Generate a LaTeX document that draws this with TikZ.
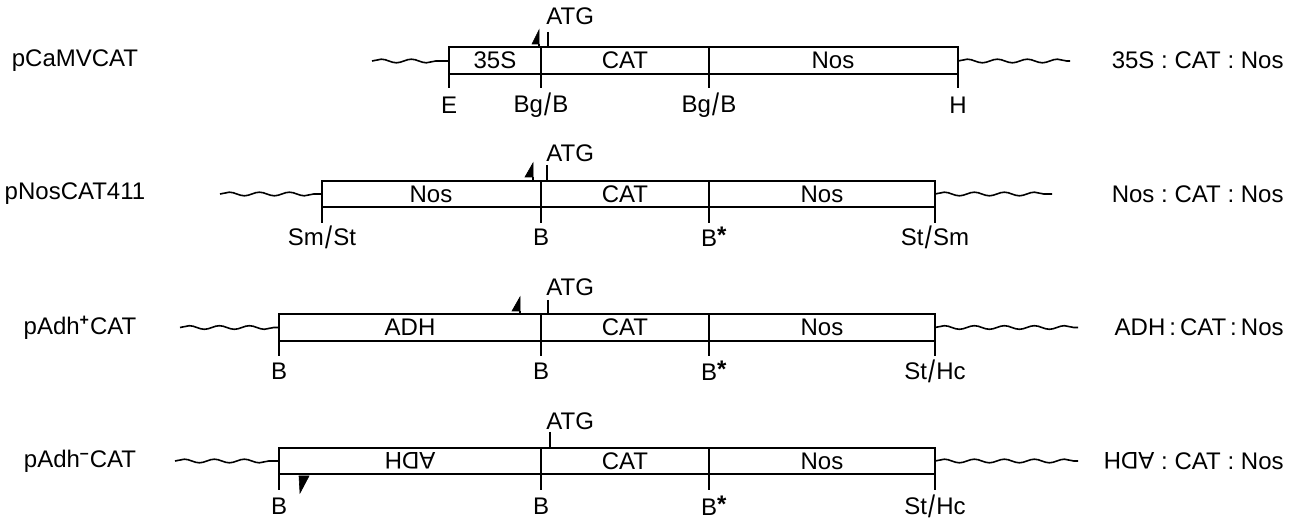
\documentclass[tikz,border=0pt]{standalone}
\usepackage{fontspec}
\setmainfont{Liberation Sans}
\usetikzlibrary{decorations.pathmorphing}
\newcommand{\tallslash}{\hspace{0.05em}\raisebox{-0.12em}{\scalebox{1.05}[1.3]{/}}\hspace{0.05em}}
\newcommand{\cln}{\hspace{0.28em}:\hspace{0.28em}}
\begin{document}
\begin{tikzpicture}[x=0.5pt,y=-0.5pt,
  every node/.style={font=\fontsize{12}{14}\selectfont, inner sep=0pt},
  boxline/.style={line width=0.8pt},
  tickline/.style={line width=0.8pt},
  wave/.style={line width=0.8pt, decorate, decoration={snake, segment length=15pt, amplitude=0.9pt}},
  flag/.style={fill=black, draw=black, line width=0.3pt},
  rlbl/.style={anchor=east}]
\useasboundingbox (0,0) rectangle (1296,522);

% ---------------- Row 1 ----------------
\draw[boxline] (449,47) rectangle (958,74);
\draw[boxline] (541,47) -- (541,74) (709,47) -- (709,74);
\node (r1a) at (495,60.5) {35S};
\node (r1b) at (625,60.5) {CAT};
\node (r1c) at (833,60.5) {Nos};
\draw[wave] (372,61) -- (449,61);
\draw[wave] (958,61) -- (1070,61);
\node (r1name) at (75,60.5) {pCaMVCAT};
\node[rlbl] (r1right) at (1284,60.5) {35S\cln CAT\cln Nos};
\draw[tickline] (449,74) -- (449,88) (541,74) -- (541,88) (709,74) -- (709,88) (958,74) -- (958,88);
\node (r1t1) at (449,105) {E};
\node (r1t2) at (541,105) {Bg\tallslash B};
\node (r1t3) at (709,105) {Bg\tallslash B};
\node (r1t4) at (958,105) {H};
\draw[tickline] (548,32) -- (548,47);
\node[anchor=west] (r1atg) at (546,16) {ATG};
\fill[flag] (532,44) -- (539,44) -- (539,30) -- cycle;
\draw[line width=0.6pt] (539,44) -- (539,47);

% ---------------- Row 2 ----------------
\draw[boxline] (322,181) rectangle (935,207);
\draw[boxline] (541,181) -- (541,207) (709,181) -- (709,207);
\node (r2a) at (431,194) {Nos};
\node (r2b) at (625,194) {CAT};
\node (r2c) at (822,194) {Nos};
\draw[wave] (220,194) -- (322,194);
\draw[wave] (935,194) -- (1052,194);
\node (r2name) at (75,194) {pNosCAT411};
\node[rlbl] (r2right) at (1284,194) {Nos\cln CAT\cln Nos};
\draw[tickline] (322,207) -- (322,223) (541,207) -- (541,223) (709,207) -- (709,223) (935,207) -- (935,223);
\node (r2t1) at (322,237) {Sm\tallslash St};
\node (r2t2) at (541,237) {B};
\node (r2t3) at (709,237) {B\rlap{\raisebox{0.25ex}{\textbf{\large *}}}};
\node (r2t4) at (935,237) {St\tallslash Sm};
\draw[tickline] (547,165) -- (547,181);
\node[anchor=west] (r2atg) at (546,153) {ATG};
\fill[flag] (525,177) -- (533,177) -- (533,163) -- cycle;
\draw[line width=0.6pt] (533,177) -- (533,181);

% ---------------- Row 3 ----------------
\draw[boxline] (279,314) rectangle (935,341);
\draw[boxline] (541,314) -- (541,341) (709,314) -- (709,341);
\node (r3a) at (410,327.5) {ADH};
\node (r3b) at (625,327.5) {CAT};
\node (r3c) at (822,327.5) {Nos};
\draw[wave] (180,327.5) -- (279,327.5);
\draw[wave] (935,327.5) -- (1078,327.5);
\node (r3name) at (80,327.5) {pAdh\textsuperscript{\textbf{+}}CAT};
\node[rlbl] (r3right) at (1284,327.5) {ADH\,:\,CAT\,:\,Nos};
\draw[tickline] (279,341) -- (279,356) (541,341) -- (541,356) (709,341) -- (709,356) (935,341) -- (935,356);
\node (r3t1) at (279,371) {B};
\node (r3t2) at (541,371) {B};
\node (r3t3) at (709,371) {B\rlap{\raisebox{0.25ex}{\textbf{\large *}}}};
\node (r3t4) at (935,371) {St\tallslash Hc};
\draw[tickline] (548,300) -- (548,314);
\node[anchor=west] (r3atg) at (546,287) {ATG};
\fill[flag] (512,311) -- (520,311) -- (520,297) -- cycle;
\draw[line width=0.6pt] (520,311) -- (520,314);

% ---------------- Row 4 ----------------
\draw[boxline] (279,448) rectangle (935,474);
\draw[boxline] (541,448) -- (541,474) (709,448) -- (709,474);
\node[rotate=180] (r4a) at (410,461) {ADH};
\node (r4b) at (625,461) {CAT};
\node (r4c) at (822,461) {Nos};
\draw[wave] (175,461) -- (279,461);
\draw[wave] (935,461) -- (1078,461);
\node (r4name) at (80,461) {pAdh\textsuperscript{\textbf{--}}CAT};
\node[rlbl] (r4right) at (1284,461) {\rotatebox[origin=c]{180}{ADH}\cln CAT\cln Nos};
\draw[tickline] (279,474) -- (279,490) (541,474) -- (541,490) (709,474) -- (709,490) (935,474) -- (935,490);
\node (r4t1) at (279,506) {B};
\node (r4t2) at (541,506) {B};
\node (r4t3) at (709,506) {B\rlap{\raisebox{0.25ex}{\textbf{\large *}}}};
\node (r4t4) at (935,506) {St\tallslash Hc};
\draw[tickline] (550,432) -- (550,448);
\node[anchor=west] (r4atg) at (546,421) {ATG};
\fill[flag] (299,476) -- (309,476) -- (300,493) -- cycle;
\end{tikzpicture}
\end{document}
